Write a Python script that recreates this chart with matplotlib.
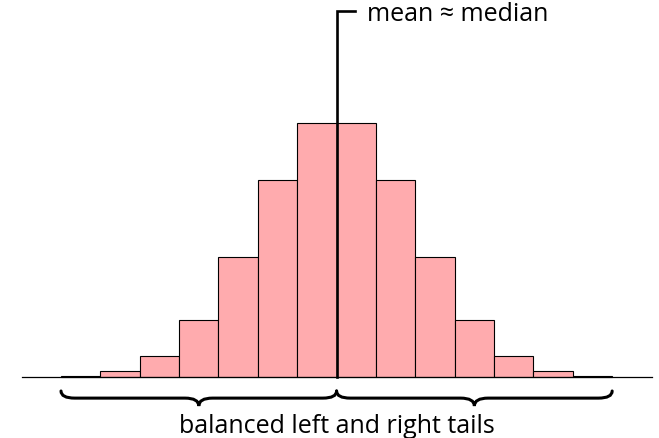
import matplotlib
matplotlib.use('Agg')
import matplotlib.pyplot as plt
import numpy as np
from matplotlib.path import Path
import matplotlib.patches as mpatches

# bar heights (tallest = 100)
bins    = list(range(14))
heights = [0.4, 2.4, 8.3, 22.4, 47.2, 77.6, 100, 100, 77.6, 47.2, 22.4, 8.3, 2.4, 0.4]
mean_label = 'mean \u2248 median'
tail_label = 'balanced left and right tails'

plt.rcParams['font.family'] = ['Open Sans', 'DejaVu Sans']

fig = plt.figure(figsize=(6.59, 4.39), dpi=100)
ax = fig.add_axes([0, 0, 1, 1])
ax.set_axis_off()
ax.set_xlim(-1.55, 15.19)
ax.set_ylim(-24.0, 148.8)

ax.bar(bins, heights, width=1, align='edge', color='#ffabae',
       edgecolor='black', linewidth=0.8, zorder=2)

# baseline
ax.plot([-1.0, 15.0], [0, 0], color='black', lw=0.9, zorder=3)

# mean / median marker
mid = len(bins) / 2
ax.plot([mid, mid, mid + 0.48], [0, 144.1, 144.1], color='black', lw=1.9,
        solid_joinstyle='miter', zorder=4)
ax.text(mid + 0.78, 143.2, mean_label, fontsize=18, va='center', ha='left')


def brace(x0, x1, yt=-5.5, ym=-8.3, ytip=-11.4, r=0.35):
    xm = (x0 + x1) / 2
    verts = [(x0, yt), (x0, ym), (x0 + r, ym),
             (xm - r, ym), (xm, ym), (xm, ytip),
             (xm, ym), (xm + r, ym),
             (x1 - r, ym), (x1, ym), (x1, yt)]
    codes = [Path.MOVETO, Path.CURVE3, Path.CURVE3,
             Path.LINETO, Path.CURVE3, Path.CURVE3,
             Path.CURVE3, Path.CURVE3,
             Path.LINETO, Path.CURVE3, Path.CURVE3]
    ax.add_patch(mpatches.PathPatch(Path(verts, codes), fill=False,
                                    lw=2.2, edgecolor='black',
                                    capstyle='round', zorder=4))


brace(0, mid)
brace(mid, len(bins))
ax.text(mid, -19.0, tail_label, fontsize=18, ha='center', va='center')

fig.savefig('out.png', dpi=100)
